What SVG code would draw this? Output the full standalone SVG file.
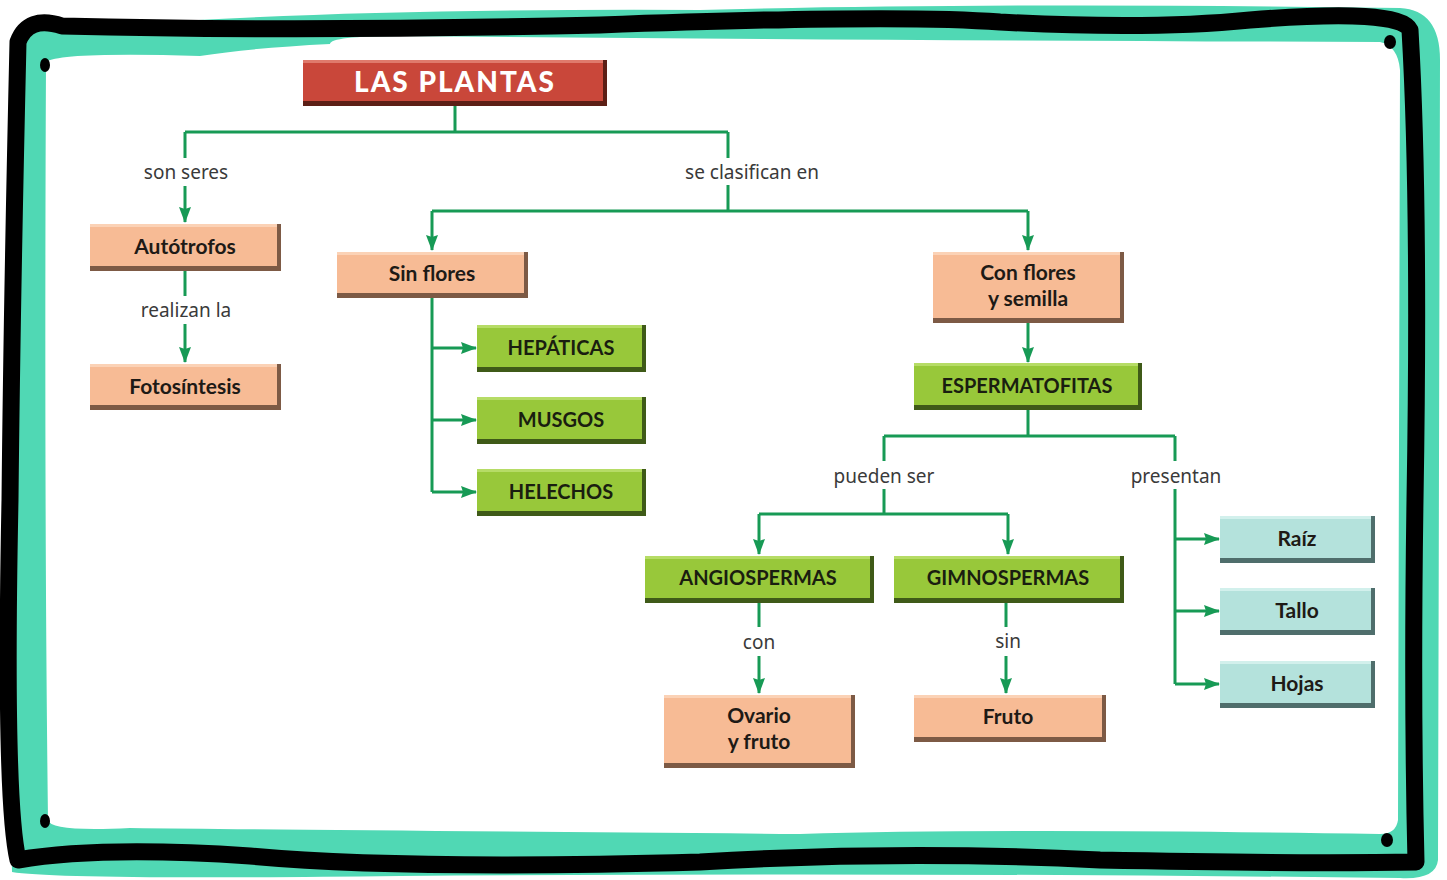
<svg xmlns="http://www.w3.org/2000/svg" width="1447" height="880" viewBox="0 0 1447 880">
<style>
.lbl{font-family:"Noto Sans","Open Sans",sans-serif;font-size:19px;fill:#3a3a3a;text-anchor:middle}
.nt{font-family:Lato,"Liberation Sans",sans-serif;font-weight:bold;font-size:21px;fill:#1e1a16;text-anchor:middle}
.cap{font-family:Lato,"Liberation Sans",sans-serif;font-weight:bold;font-size:20px;fill:#1a1e10;text-anchor:middle}
.ttl{font-family:Lato,"Liberation Sans",sans-serif;font-weight:900;font-size:28px;fill:#ffffff;text-anchor:middle;letter-spacing:2px}
.sal .sh{fill:#7d5a45}.sal .bd{fill:#f7bb95}.sal .hl{fill:#fbd2b6}
.grn .sh{fill:#3f5a18}.grn .bd{fill:#98c83a}.grn .hl{fill:#b6dc66}
.tea .sh{fill:#4f6e6c}.tea .bd{fill:#b4e2dc}.tea .hl{fill:#d2f0ec}
.red .sh{fill:#5c1f16}.red .bd{fill:#c9473a}.red .hl{fill:#df7a6c}
.con{fill:none;stroke:#179a55;stroke-width:3}
</style>
<defs>
<marker id="ah" markerUnits="userSpaceOnUse" markerWidth="16" markerHeight="14" viewBox="0 0 16 14" refX="15" refY="7" orient="auto">
<path d="M0,1 L16,7 L0,13 L2,7 Z" fill="#179a55"/>
</marker>
</defs>
<rect width="1447" height="880" fill="#ffffff"/>
<g id="frame">
<path d="M10,40 Q20,20 60,30 Q300,8 700,10 Q1000,2 1400,8 Q1440,10 1440,60 L1438,860 Q1436,880 1400,878 Q900,872 400,876 Q60,880 12,872 Q6,600 10,40 Z" fill="#50d8b4"/>
<path d="M46,62 Q60,52 200,56 Q250,48 330,44 Q330,36 400,36 Q800,40 1380,42 Q1398,46 1400,70 L1398,820 Q1396,834 1380,834 Q1000,828 800,834 Q300,830 130,828 Q50,832 48,820 Q44,500 46,62 Z" fill="#ffffff"/>
<path d="M18,42 Q28,15 62,26 Q300,32 600,25 Q900,14 1000,22 Q1150,30 1250,20 Q1400,8 1410,30 Q1420,200 1415,500 Q1412,700 1416,862 Q1300,864 1100,860 Q900,850 700,862 Q400,870 250,856 Q100,846 18,860 Q4,800 10,500 Q12,300 18,42 Z" fill="none" stroke="#000000" stroke-width="17" stroke-linejoin="round"/>
<ellipse cx="45" cy="65" rx="5" ry="7" fill="#000"/>
<ellipse cx="1390" cy="42" rx="6" ry="7" fill="#000"/>
<ellipse cx="45" cy="821" rx="5" ry="7" fill="#000"/>
<ellipse cx="1387" cy="840" rx="6" ry="7" fill="#000"/>
</g>
<g id="connectors">
<path class="con" d="M455,105 V132 M185,132 H728 M185,132 V158"/>
<path class="con" d="M185,186 V222" marker-end="url(#ah)"/>
<path class="con" d="M728,132 V158 M728,185 V211 M432,211 H1028"/>
<path class="con" d="M432,211 V250" marker-end="url(#ah)"/>
<path class="con" d="M1028,211 V250" marker-end="url(#ah)"/>
<path class="con" d="M185,270 V296"/>
<path class="con" d="M185,324 V362" marker-end="url(#ah)"/>
<path class="con" d="M432,297 V492"/>
<path class="con" d="M432,348 H476" marker-end="url(#ah)"/>
<path class="con" d="M432,420 H476" marker-end="url(#ah)"/>
<path class="con" d="M432,492 H476" marker-end="url(#ah)"/>
<path class="con" d="M1028,322 V362" marker-end="url(#ah)"/>
<path class="con" d="M1028,409 V436 M884,436 H1175 M884,436 V461 M1175,436 V461 M884,489 V514 M759,514 H1008"/>
<path class="con" d="M759,514 V554" marker-end="url(#ah)"/>
<path class="con" d="M1008,514 V554" marker-end="url(#ah)"/>
<path class="con" d="M1175,489 V684"/>
<path class="con" d="M1175,539 H1219" marker-end="url(#ah)"/>
<path class="con" d="M1175,611 H1219" marker-end="url(#ah)"/>
<path class="con" d="M1175,684 H1219" marker-end="url(#ah)"/>
<path class="con" d="M759,602 V627"/>
<path class="con" d="M759,656 V693" marker-end="url(#ah)"/>
<path class="con" d="M1006,602 V627"/>
<path class="con" d="M1006,656 V693" marker-end="url(#ah)"/>
<text class="lbl" x="186" y="179">son seres</text>
<text class="lbl" x="752" y="179">se clasifican en</text>
<text class="lbl" x="186" y="317">realizan la</text>
<text class="lbl" x="884" y="483">pueden ser</text>
<text class="lbl" x="1176" y="483">presentan</text>
<text class="lbl" x="759" y="649">con</text>
<text class="lbl" x="1008" y="648">sin</text>
</g>
<g id="n-plantas" class="red"><rect class="sh" x="303" y="60" width="304" height="46"/><rect class="bd" x="303" y="60" width="300" height="41"/><rect class="hl" x="303" y="60" width="300" height="3"/><text class="ttl" x="455" y="92">LAS PLANTAS</text></g>
<g id="n-autotrofos" class="sal"><rect class="sh" x="90" y="224" width="191" height="47"/><rect class="bd" x="90" y="224" width="187" height="42"/><rect class="hl" x="90" y="224" width="187" height="3"/><text class="nt" x="185" y="254">Autótrofos</text></g>
<g id="n-fotosintesis" class="sal"><rect class="sh" x="90" y="364" width="191" height="46"/><rect class="bd" x="90" y="364" width="187" height="41"/><rect class="hl" x="90" y="364" width="187" height="3"/><text class="nt" x="185" y="394">Fotosíntesis</text></g>
<g id="n-sinflores" class="sal"><rect class="sh" x="337" y="252" width="191" height="46"/><rect class="bd" x="337" y="252" width="187" height="41"/><rect class="hl" x="337" y="252" width="187" height="3"/><text class="nt" x="432" y="281">Sin flores</text></g>
<g id="n-conflores" class="sal"><rect class="sh" x="933" y="252" width="191" height="71"/><rect class="bd" x="933" y="252" width="187" height="66"/><rect class="hl" x="933" y="252" width="187" height="3"/><text class="nt" x="1028" y="280">Con flores</text><text class="nt" x="1028" y="306">y semilla</text></g>
<g id="n-hepaticas" class="grn"><rect class="sh" x="477" y="325" width="169" height="47"/><rect class="bd" x="477" y="325" width="165" height="42"/><rect class="hl" x="477" y="325" width="165" height="3"/><text class="cap" x="561" y="355">HEPÁTICAS</text></g>
<g id="n-musgos" class="grn"><rect class="sh" x="477" y="397" width="169" height="47"/><rect class="bd" x="477" y="397" width="165" height="42"/><rect class="hl" x="477" y="397" width="165" height="3"/><text class="cap" x="561" y="427">MUSGOS</text></g>
<g id="n-helechos" class="grn"><rect class="sh" x="477" y="469" width="169" height="47"/><rect class="bd" x="477" y="469" width="165" height="42"/><rect class="hl" x="477" y="469" width="165" height="3"/><text class="cap" x="561" y="499">HELECHOS</text></g>
<g id="n-esperma" class="grn"><rect class="sh" x="914" y="363" width="228" height="47"/><rect class="bd" x="914" y="363" width="224" height="42"/><rect class="hl" x="914" y="363" width="224" height="3"/><text class="cap" x="1027" y="393">ESPERMATOFITAS</text></g>
<g id="n-angio" class="grn"><rect class="sh" x="645" y="556" width="229" height="47"/><rect class="bd" x="645" y="556" width="225" height="42"/><rect class="hl" x="645" y="556" width="225" height="3"/><text class="cap" x="758" y="585">ANGIOSPERMAS</text></g>
<g id="n-gimno" class="grn"><rect class="sh" x="894" y="556" width="230" height="47"/><rect class="bd" x="894" y="556" width="226" height="42"/><rect class="hl" x="894" y="556" width="226" height="3"/><text class="cap" x="1008" y="585">GIMNOSPERMAS</text></g>
<g id="n-ovario" class="sal"><rect class="sh" x="664" y="695" width="191" height="73"/><rect class="bd" x="664" y="695" width="187" height="68"/><rect class="hl" x="664" y="695" width="187" height="3"/><text class="nt" x="759" y="723">Ovario</text><text class="nt" x="759" y="749">y fruto</text></g>
<g id="n-fruto" class="sal"><rect class="sh" x="914" y="695" width="192" height="47"/><rect class="bd" x="914" y="695" width="188" height="42"/><rect class="hl" x="914" y="695" width="188" height="3"/><text class="nt" x="1008" y="724">Fruto</text></g>
<g id="n-raiz" class="tea"><rect class="sh" x="1220" y="516" width="155" height="47"/><rect class="bd" x="1220" y="516" width="151" height="42"/><rect class="hl" x="1220" y="516" width="151" height="3"/><text class="nt" x="1297" y="546">Raíz</text></g>
<g id="n-tallo" class="tea"><rect class="sh" x="1220" y="588" width="155" height="47"/><rect class="bd" x="1220" y="588" width="151" height="42"/><rect class="hl" x="1220" y="588" width="151" height="3"/><text class="nt" x="1297" y="618">Tallo</text></g>
<g id="n-hojas" class="tea"><rect class="sh" x="1220" y="661" width="155" height="47"/><rect class="bd" x="1220" y="661" width="151" height="42"/><rect class="hl" x="1220" y="661" width="151" height="3"/><text class="nt" x="1297" y="691">Hojas</text></g>
</svg>
